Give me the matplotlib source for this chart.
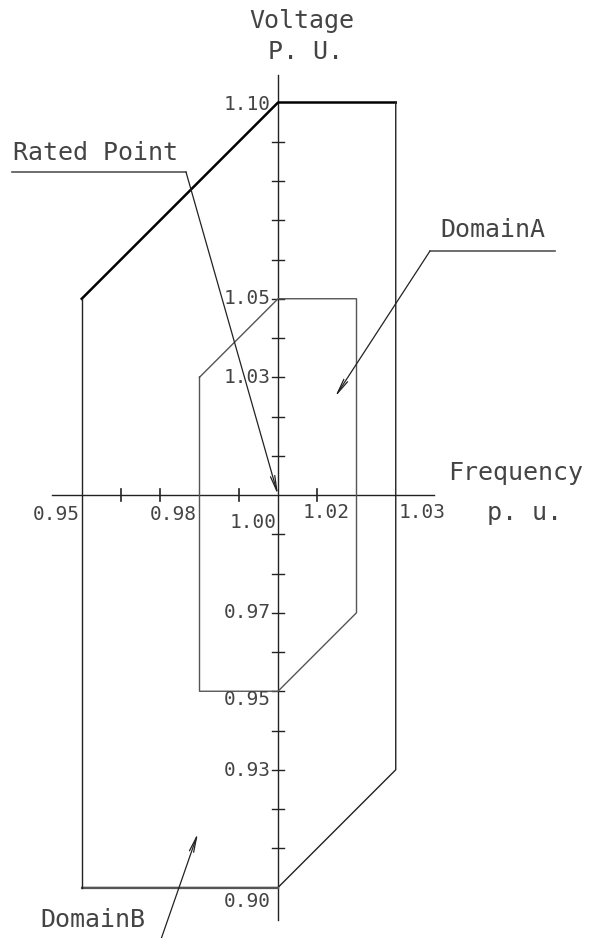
import matplotlib
matplotlib.use("Agg")
import matplotlib.pyplot as plt

# operating zones (frequency p.u., voltage p.u.)
zone_a_freq = [0.98, 1.00, 1.02, 1.02, 1.00, 0.98, 0.98]
zone_a_volt = [1.03, 1.05, 1.05, 0.97, 0.95, 0.95, 1.03]
zone_b_freq = [0.95, 1.00, 1.03, 1.03, 1.00, 0.95, 0.95]
zone_b_volt = [1.05, 1.10, 1.10, 0.93, 0.90, 0.90, 1.05]

rated_point = (1.00, 1.00)

volt_ticks = [0.91, 0.92, 0.93, 0.94, 0.95, 0.96, 0.97, 0.98, 0.99,
              1.01, 1.02, 1.03, 1.04, 1.05, 1.06, 1.07, 1.08, 1.09]
freq_ticks = [0.96, 0.97, 0.99, 1.01]

volt_labels = ["1.10", "1.05", "1.03", "0.97", "0.95", "0.93", "0.90"]
volt_label_vals = [1.10, 1.05, 1.03, 0.97, 0.95, 0.93, 0.90]
freq_labels = ["0.95", "0.98", "1.00", "1.02", "1.03"]
freq_label_vals = [0.95, 0.98, 1.00, 1.02, 1.03]

# drawing scale: pixels per 1.0 p.u. (same on both axes)
S = 3925.0
X0, Y0 = 278.0, 495.0  # pixel position of the rated point
W, H = 597, 938


def fx(px):
    return 1.0 + (px - X0) / S


def vy(py):
    return 1.0 - (py - Y0) / S


fig = plt.figure(figsize=(W / 100, H / 100), dpi=100)
ax = fig.add_axes([0, 0, 1, 1])
ax.set_xlim(fx(0), fx(W))
ax.set_ylim(vy(H), vy(0))
ax.axis("off")

ink = "#222222"
grey = "#555555"
txt = "#444444"
mono = "DejaVu Sans Mono"

# axes
ax.plot([fx(52), fx(434)], [1.0, 1.0], color=ink, lw=1.0)
ax.plot([1.0, 1.0], [vy(75), vy(920)], color=ink, lw=1.0)

# ticks
t = 6 / S
for v in volt_ticks:
    ax.plot([1.0 - t, 1.0 + t], [v, v], color=ink, lw=1.0)
for f in freq_ticks:
    ax.plot([f, f], [1.0 - t, 1.0 + t], color=ink, lw=1.2)

# zone B (bold upper-left edge)
ax.plot(zone_b_freq[:3], zone_b_volt[:3], color="black", lw=1.8)
ax.plot(zone_b_freq[2:6], zone_b_volt[2:6], color=ink, lw=1.0)
ax.plot(zone_b_freq[4:6], zone_b_volt[4:6], color=grey, lw=1.6)
ax.plot(zone_b_freq[5:], zone_b_volt[5:], color=ink, lw=1.0)

# zone A
ax.plot(zone_a_freq, zone_a_volt, color=grey, lw=1.0)

# voltage labels
v_off = [2, 0, 0, 0, 8, 1, 14]
for lab, v, o in zip(volt_labels, volt_label_vals, v_off):
    ax.text(fx(271), v - o / S, lab, ha="right", va="center",
            family=mono, fontsize=14, color=txt)

# frequency labels
f_pos = [(80, 514, "right"), (197, 514, "right"), (277, 522, "right"),
         (350, 512, "right"), (399, 512, "left")]
for lab, f, (px, py, al) in zip(freq_labels, freq_label_vals, f_pos):
    ax.text(f + (px - (X0 + (f - 1.0) * S)) / S, vy(py), lab, ha=al,
            va="center", family=mono, fontsize=14, color=txt)

# axis titles
tk = dict(family=mono, fontsize=18, color=txt, va="center")
ax.text(fx(302), vy(21), "Voltage", ha="center", **tk)
ax.text(fx(306), vy(52), "P. U.", ha="center", **tk)
ax.text(fx(448), vy(473), "Frequency", ha="left", **tk)
ax.text(fx(525), vy(513), "p. u.", ha="center", **tk)

# leaders
arr = dict(arrowstyle="->,head_length=1.1,head_width=0.16", color=ink,
           lw=0.9, shrinkA=0, shrinkB=0)

ax.text(fx(13), vy(153), "Rated Point", ha="left", **tk)
ax.plot([fx(12), fx(186)], [vy(172), vy(172)], color=grey, lw=1.2)
ax.annotate("", xy=rated_point, xytext=(fx(186), vy(172)), arrowprops=arr)

ax.text(fx(440), vy(230), "DomainA", ha="left", **tk)
ax.plot([fx(430), fx(555)], [vy(251), vy(251)], color=grey, lw=1.2)
ax.annotate("", xy=(fx(335), vy(397)), xytext=(fx(430), vy(251)),
            arrowprops=arr)

ax.text(fx(40), vy(920), "DomainB", ha="left", **tk)
ax.annotate("", xy=(fx(198), vy(833)), xytext=(fx(159), vy(945)),
            arrowprops=arr)

fig.savefig("out.png", dpi=100, facecolor="white")
